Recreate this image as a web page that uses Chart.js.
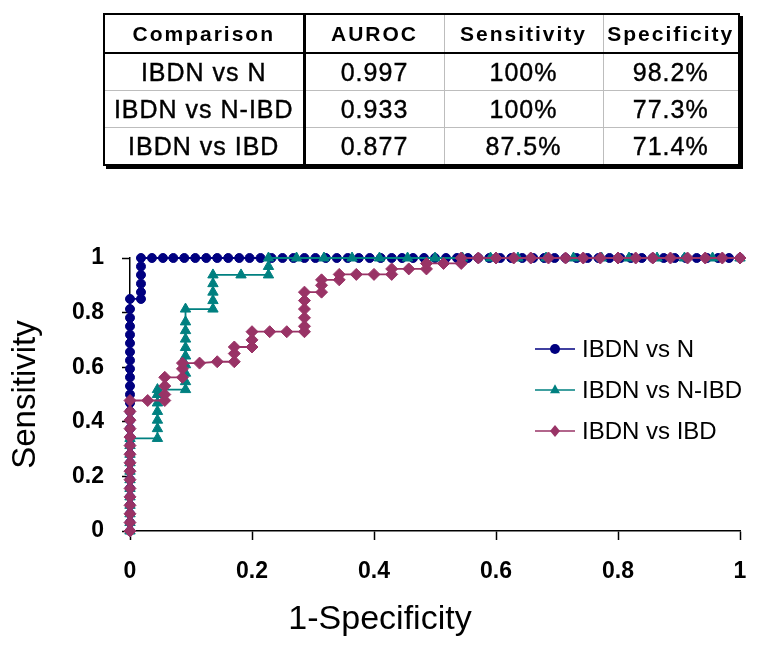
<!DOCTYPE html>
<html>
<head>
<meta charset="utf-8">
<script src="https://cdn.jsdelivr.net/npm/chart.js@4.4.1/dist/chart.umd.min.js"></script>
<style>
  html, body { margin: 0; padding: 0; background: #fff; }
  #wrap { position: relative; width: 759px; height: 653px; overflow: hidden; }
  #roc { position: absolute; left: 0; top: 0; }
  #summary {
    position: absolute; left: 103px; top: 13px;
    border-collapse: collapse; table-layout: fixed;
    font-family: "Liberation Sans", Arial, sans-serif; color: #000;
    border: 2px solid #000; box-shadow: 3px 3px 0 #000; background: #fff;
  }
  #summary th, #summary td {
    padding: 0; text-align: center; white-space: nowrap; overflow: hidden;
    border: 1px solid #bdbdbd;
  }
  #summary th { height: 37px; font-size: 21px; font-weight: bold; letter-spacing: 2px; border-bottom: 2px solid #000; }
  #summary td { height: 36px; font-size: 25px; letter-spacing: 1px; -webkit-text-stroke: 0.4px #000; }
  #summary .first { border-right: 3px solid #000; }
</style>
</head>
<body>
<div id="wrap">
  <canvas id="roc" width="759" height="653"></canvas>
  <table id="summary"></table>
</div>
<script>
// summary table
var headers = ['Comparison', 'AUROC', 'Sensitivity', 'Specificity'];
var colWidths = [200, 140, 159, 136];
var comparisons = ['IBDN vs N', 'IBDN vs N-IBD', 'IBDN vs IBD'];
var auroc = ['0.997', '0.933', '0.877'];
var sensitivity = ['100%', '100%', '87.5%'];
var specificity = ['98.2%', '77.3%', '71.4%'];

// ROC curve: IBDN vs N
var nFpr = [
  0,0,0,0,0,0,0,0,0,0,0,0,0,0,0,0,0,0,0,0,0,0,0,0,0,0,0,0,
  0.018,0.018,0.018,0.018,0.018,0.018,
  0.036,0.054,0.071,0.089,0.107,0.125,0.143,0.161,0.179,0.196,
  0.214,0.232,0.25,0.268,0.286,0.304,0.321,0.339,0.357,0.375,
  0.393,0.411,0.429,0.446,0.464,0.482,0.5,0.518,0.536,0.554,
  0.571,0.589,0.607,0.625,0.643,0.661,0.679,0.696,0.714,0.732,
  0.75,0.768,0.786,0.804,0.821,0.839,0.857,0.875,0.893,0.911,
  0.929,0.946,0.964,0.982,1
];
var nSens = [
  0,0.031,0.063,0.094,0.125,0.156,0.188,0.219,0.25,0.281,0.313,0.344,0.375,0.406,
  0.438,0.469,0.5,0.531,0.563,0.594,0.625,0.656,0.688,0.719,0.75,0.781,0.813,0.85,
  0.85,0.875,0.906,0.938,0.969,1,
  1,1,1,1,1,1,1,1,1,1,
  1,1,1,1,1,1,1,1,1,1,
  1,1,1,1,1,1,1,1,1,1,
  1,1,1,1,1,1,1,1,1,1,
  1,1,1,1,1,1,1,1,1,1,
  1,1,1,1,1
];

// ROC curve: IBDN vs N-IBD
var nibdFpr = [
  0,0,0,0,0,0,0,0,0,0,0,0,
  0.045,0.045,0.045,0.045,0.045,0.045,0.045,
  0.091,0.091,0.091,0.091,0.091,0.091,0.091,0.091,0.091,0.091,
  0.136,0.136,0.136,0.136,0.136,
  0.182,
  0.227,0.227,0.227,
  0.273,0.318,0.364,0.409,0.455,0.5,0.545,0.591,0.636,0.682,
  0.727,0.773,0.818,0.864,0.909,0.955,1
];
var nibdSens = [
  0,0.031,0.063,0.094,0.125,0.156,0.188,0.219,0.25,0.281,0.313,0.339,
  0.339,0.375,0.406,0.438,0.469,0.5,0.518,
  0.518,0.547,0.578,0.609,0.641,0.672,0.703,0.734,0.766,0.813,
  0.813,0.844,0.875,0.906,0.938,
  0.938,
  0.938,0.969,1,
  1,1,1,1,1,1,1,1,1,1,
  1,1,1,1,1,1,1
];

// ROC curve: IBDN vs IBD
var ibdFpr = [
  0,0,0,0,0,0,0,0,0,0,0,0,0,0,0,0,
  0.029,
  0.057,0.057,0.057,0.057,
  0.086,0.086,0.086,
  0.114,
  0.143,
  0.171,0.171,0.171,
  0.2,0.2,0.2,
  0.229,
  0.257,
  0.286,0.286,0.286,0.286,0.286,0.286,
  0.314,0.314,0.314,
  0.343,0.343,
  0.371,
  0.4,
  0.429,0.429,
  0.457,
  0.486,0.486,
  0.514,
  0.543,0.543,
  0.571,0.6,0.629,0.657,0.686,0.714,0.743,0.771,
  0.8,0.829,0.857,0.886,0.914,0.943,0.971,1
];
var ibdSens = [
  0,0.031,0.063,0.094,0.125,0.156,0.188,0.219,0.25,0.281,0.313,0.344,0.375,0.406,0.438,0.478,
  0.478,
  0.478,0.5,0.531,0.563,
  0.563,0.594,0.615,
  0.615,
  0.62,
  0.62,0.65,0.674,
  0.674,0.7,0.73,
  0.73,
  0.73,
  0.73,0.75,0.781,0.813,0.844,0.875,
  0.875,0.9,0.92,
  0.92,0.94,
  0.94,
  0.94,
  0.94,0.96,
  0.96,
  0.96,0.98,
  0.98,
  0.98,1,
  1,1,1,1,1,1,1,1,
  1,1,1,1,1,1,1,1
];

var axisTicks = [0, 0.2, 0.4, 0.6, 0.8, 1];

// build the table
var table = document.getElementById('summary');
var html = '<colgroup>';
colWidths.forEach(function(w){ html += '<col style="width:' + w + 'px">'; });
html += '</colgroup><tr>';
headers.forEach(function(h, i){ html += '<th' + (i == 0 ? ' class="first"' : '') + '>' + h + '</th>'; });
html += '</tr>';
comparisons.forEach(function(c, i){
  html += '<tr><td class="first">' + c + '</td><td>' + auroc[i] + '</td><td>' + sensitivity[i] + '</td><td>' + specificity[i] + '</td></tr>';
});
table.innerHTML = html;

function toPoints(xs, ys) {
  return xs.map(function(x, i){ return {x: x, y: ys[i]}; });
}

function drawMarker(ctx, style, x, y, r, color) {
  ctx.fillStyle = color;
  ctx.beginPath();
  if (style == 'circle') {
    ctx.arc(x, y, r, 0, Math.PI * 2);
  } else if (style == 'triangle') {
    ctx.moveTo(x, y - r * 1.15);
    ctx.lineTo(x + r, y + r * 0.65);
    ctx.lineTo(x - r, y + r * 0.65);
  } else {
    ctx.moveTo(x, y - r * 1.2);
    ctx.lineTo(x + r, y);
    ctx.lineTo(x, y + r * 1.2);
    ctx.lineTo(x - r, y);
  }
  ctx.closePath();
  ctx.fill();
}

// legend inside the plot, line with marker then label
var sideLegend = {
  id: 'sideLegend',
  afterDatasetsDraw: function(chart, args, opts) {
    var ctx = chart.ctx;
    ctx.save();
    ctx.font = opts.font;
    ctx.textBaseline = 'middle';
    chart.data.datasets.forEach(function(ds, i){
      var y = opts.top + i * opts.gap;
      ctx.strokeStyle = ds.borderColor;
      ctx.lineWidth = 1.5;
      ctx.beginPath();
      ctx.moveTo(opts.left, y);
      ctx.lineTo(opts.left + opts.lineLen, y);
      ctx.stroke();
      drawMarker(ctx, ds.pointStyle, opts.left + opts.lineLen / 2, y, 5, ds.borderColor);
      ctx.fillStyle = '#000';
      ctx.fillText(ds.label, opts.left + opts.lineLen + 7, y + 1);
    });
    ctx.restore();
  }
};

// x axis title sits off centre in the original
var xTitle = {
  id: 'xTitle',
  afterDraw: function(chart, args, opts) {
    var ctx = chart.ctx;
    ctx.save();
    ctx.font = opts.font;
    ctx.fillStyle = '#000';
    ctx.textAlign = 'center';
    ctx.textBaseline = 'middle';
    ctx.fillText(opts.text, opts.x, opts.y);
    ctx.restore();
  }
};

var tickFont = { family: '"Liberation Sans", Arial, sans-serif', size: 23, weight: 'bold' };
var fmtTick = function(v){ return String(+v.toFixed(1)); };

var ctx = document.getElementById('roc');
var roc = new Chart(ctx, {
  type: 'line',
  data: {
    datasets: [{
      label: 'IBDN vs N',
      data: toPoints(nFpr, nSens),
      borderColor: '#000080',
      backgroundColor: '#000080',
      pointStyle: 'circle',
      pointRadius: 4.5,
      order: 3
    }, {
      label: 'IBDN vs N-IBD',
      data: toPoints(nibdFpr, nibdSens),
      borderColor: '#008080',
      backgroundColor: '#008080',
      pointStyle: 'triangle',
      pointRadius: 6,
      order: 2
    }, {
      label: 'IBDN vs IBD',
      data: toPoints(ibdFpr, ibdSens),
      borderColor: '#993366',
      backgroundColor: '#993366',
      pointStyle: 'rectRot',
      pointRadius: 6,
      order: 1
    }]
  },
  options: {
    responsive: false,
    animation: false,
    clip: false,
    elements: {
      line: { borderWidth: 1.8, tension: 0 },
      point: { borderWidth: 1, hoverRadius: 5 }
    },
    layout: { padding: { top: 258, right: 19, left: 0, bottom: 0 } },
    scales: {
      x: {
        type: 'linear',
        min: 0, max: 1,
        afterFit: function(scale){ scale.height = 122; scale.paddingLeft = 0; scale.paddingRight = 0; },
        afterBuildTicks: function(scale){ scale.ticks = axisTicks.map(function(v){ return {value: v}; }); },
        grid: { drawOnChartArea: false, drawTicks: true, tickLength: 9, tickColor: '#000', tickWidth: 1.5 },
        border: { display: true, color: '#000', width: 1.5 },
        ticks: { color: '#000', font: tickFont, padding: 18, maxRotation: 0, callback: fmtTick }
      },
      y: {
        type: 'linear',
        min: 0, max: 1,
        afterFit: function(scale){ scale.width = 130; scale.paddingTop = 0; scale.paddingBottom = 0; },
        afterBuildTicks: function(scale){ scale.ticks = axisTicks.map(function(v){ return {value: v}; }); },
        grid: { drawOnChartArea: false, drawTicks: true, tickLength: 8, tickColor: '#000', tickWidth: 1.5 },
        border: { display: true, color: '#000', width: 1.5 },
        ticks: { color: '#000', font: tickFont, padding: 18, callback: fmtTick },
        title: {
          display: true,
          text: 'Sensitivity',
          color: '#000',
          font: { family: '"Liberation Sans", Arial, sans-serif', size: 33 },
          padding: { top: 6, bottom: 0 }
        }
      }
    },
    plugins: {
      legend: { display: false },
      tooltip: { enabled: false },
      sideLegend: { left: 535, top: 349, gap: 41, lineLen: 40, font: '24px "Liberation Sans", Arial, sans-serif' },
      xTitle: { text: '1-Specificity', x: 380, y: 620, font: '34px "Liberation Sans", Arial, sans-serif' }
    }
  },
  plugins: [sideLegend, xTitle]
});
</script>
</body>
</html>
